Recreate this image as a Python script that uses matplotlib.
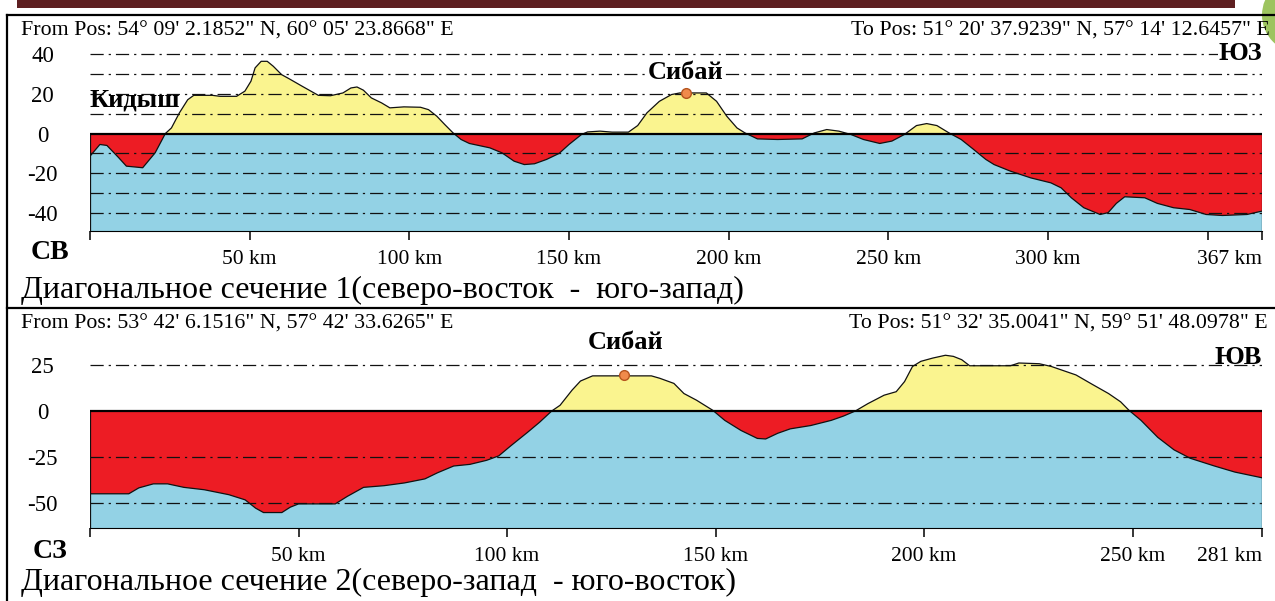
import numpy as np
import matplotlib
matplotlib.use("Agg")
import matplotlib.pyplot as plt
from matplotlib.patches import Rectangle, Circle
from matplotlib.lines import Line2D

plt.rcParams['font.family'] = ['Liberation Serif', 'DejaVu Serif']
plt.rcParams['lines.scale_dashes'] = False

# ---------------- data ----------------
p1_km = [0, 3.1, 5.3, 8.9, 11.4, 16.5, 20.4, 23.6, 25.5, 28, 30.6, 32.5, 38.3, 40.8, 45.9, 48.5,
         50.4, 51.7, 53.6, 55.5, 57.4, 60, 62.5, 66.4, 71.5, 75.3, 79.2, 81.7, 83.6, 85.6, 88.1,
         91.3, 93.9, 98.3, 103.5, 106, 108.6, 111.1, 113.7, 116.2, 118.8, 125.2, 129, 132.8, 136,
         139.2, 143, 146.9, 150, 153.9, 155.8, 159.7, 163.5, 168.6, 171.5, 174.4, 178.3, 182.1,
         184.7, 193, 196.2, 199.4, 202.6, 205.1, 209, 215.3, 223, 226.8, 230.7, 234.5, 238.3,
         242.2, 247.3, 251.1, 255, 258.8, 262, 265.2, 269, 272.8, 276.7, 280.5, 283.1, 288.2,
         294.6, 300.9, 304.1, 307.3, 311.2, 316.3, 318.8, 321.4, 324, 330.3, 334.2, 339.3, 344.4,
         349.5, 354.6, 362.3, 367]
p1_elev = [-11.4, -5.5, -6, -12, -16.4, -17.2, -9.7, 0, 2.8, 10.4, 17, 19.2, 19.2, 18.7, 18.7, 21.3,
           26.3, 33, 36.3, 36.3, 33.8, 29.6, 27.4, 23.8, 19.2, 19, 20.4, 22.9, 23.4, 21.8, 17.9,
           15.4, 12.9, 13.4, 13.2, 12, 8.7, 4.5, 0.3, -3, -5, -7.2, -9.7, -13.9, -15.6,
           -15.2, -13, -10, -5.5, -0.5, 0.8, 1.2, 0.7, 0.7, 4, 10.4, 16.2, 19.6,
           20.4, 20.4, 16.2, 8.7, 2.8, 0.3, -2.7, -3, -2.7, 0.3, 2, 1.2, -0.5,
           -3, -5, -3.8, -0.5, 4, 5, 4, 0.3, -3, -8, -13, -15.6, -18.9,
           -22.3, -24.8, -27.3, -32.3, -37.3, -40.7, -39.8, -35.1, -31.8, -32.3, -35.1, -37.3, -38.2,
           -40.7, -41.2, -40.7, -39]

p2_km = [0, 9.3, 11.7, 15.2, 18.6, 22.5, 27.4, 33.3, 37.2, 39.7, 41.6, 46, 48, 50, 58.8, 61.7,
         65.6, 70.5, 75.4, 80.3, 83.3, 87.2, 91.1, 95.1, 98, 100.9, 104.9, 107.8, 110.7, 112.7,
         115.6, 117.6, 120.5, 127.4, 134.6, 136.6, 140, 142.4, 145.4, 149.3, 152.2, 156.1, 160,
         162, 164.9, 167.9, 172.8, 177.7, 180.6, 183.5, 186.5, 190.4, 193.3, 195.3, 197.2, 199.2,
         202.1, 205.1, 207, 209, 210.9, 220.7, 222.7, 227.6, 230.5, 236.4, 240.3, 244.2, 247.1,
         249.1, 252, 256, 259.9, 263.8, 269.6, 274.5, 281]
p2_elev = [-45, -45, -41.8, -39.6, -39.6, -41.5, -42.8, -45.5, -48.3, -52.8, -55.2, -55.2, -52.3,
           -50.5, -50.5, -46.4, -41.5, -40.6, -39.1, -36.9, -33.6, -29.9, -29, -26.8, -24.4, -18.9,
           -11.6, -6.1, 0, 3.1, 11.4, 16.3, 19.1, 19.1, 19.1, 17.8, 15, 9.5, 5.9, 0.4, -5.1, -10.6,
           -14.9, -15.2, -12.1, -9.7, -7.9, -5.1, -2.8, 0, 4, 8.6, 10.5, 16, 24.2, 27, 28.8, 30.3,
           29.7, 27.9, 24.6, 24.6, 26.1, 25.7, 24.2, 19.6, 14.5, 9.5, 5, 0.4, -5.1, -14.3, -21.1,
           -25.7, -29.9, -33.2, -36.3]

p1_grid = [40, 30, 20, 10, -10, -20, -30, -40]
p1_yticks = [40, 20, 0, -20, -40]
p1_xticks = [0, 50, 100, 150, 200, 250, 300, 350, 367]
p1_xlabels = ['', '50 km', '100 km', '150 km', '200 km', '250 km', '300 km', '', '367 km']
p1_town = ('Сибай', 186.6, 20.6)
p1_village = ('Кидыш', 0.0, 16.7)

p2_grid = [25, -25, -50]
p2_yticks = [25, 0, -25, -50]
p2_xticks = [0, 50, 100, 150, 200, 250, 281]
p2_xlabels = ['', '50 km', '100 km', '150 km', '200 km', '250 km', '281 km']
p2_town = ('Сибай', 128.0, 19.6)

p1_from = 'From Pos: 54° 09\' 2.1852" N, 60° 05\' 23.8668" E'
p1_to = 'To Pos: 51° 20\' 37.9239" N, 57° 14\' 12.6457" E'
p2_from = 'From Pos: 53° 42\' 6.1516" N, 57° 42\' 33.6265" E'
p2_to = 'To Pos: 51° 32\' 35.0041" N, 59° 51\' 48.0978" E'
cap1 = 'Диагональное сечение 1(северо-восток  -  юго-запад)'
cap2 = 'Диагональное сечение 2(северо-запад  - юго-восток)'

# ---------------- style ----------------
W, H = 1275, 601
BLUE = '#93D2E5'
RED = '#ED1C24'
YELLOW = '#FAF48F'
DASH = (0, (9.5, 3.6, 1.6, 3.6))
TICK_FS = 15.5
BOLD_FS = 19

fig = plt.figure(figsize=(W / 100, H / 100), dpi=100)


def fx(px):
    return px / W


def fy(py):
    return 1 - py / H


def panel(top_px, bot_px, ylim, km, elev, grid, yticks, xticks, xlabels):
    ax = fig.add_axes([fx(90), fy(bot_px), fx(1262) - fx(90), fy(top_px) - fy(bot_px)])
    x = np.array(km, float)
    y = np.array(elev, float)
    ax.set_xlim(x[0], x[-1])
    ax.set_ylim(*ylim)
    b = ylim[0]
    ax.fill_between(x, b, 0, color=BLUE, lw=0, zorder=1)
    ax.fill_between(x, y, 0, where=y <= 0, interpolate=True, color=RED, lw=0, zorder=2)
    ax.fill_between(x, 0, y, where=y >= 0, interpolate=True, color=YELLOW, lw=0, zorder=2)
    ax.plot(x, y, color='#111111', lw=0.9, zorder=4)
    ax.axhline(0, color='black', lw=1.6, zorder=5)
    for g in grid:
        ax.axhline(g, color='#111111', lw=0.9, linestyle=DASH, zorder=6)
    ax.vlines([x[0], x[-1]], b, [max(0, y[0]), max(0, y[-1])], color='#111111', lw=0.9, zorder=4)
    for s in ['top', 'left', 'right']:
        ax.spines[s].set_visible(False)
    ax.spines['bottom'].set_linewidth(0.8)
    ax.set_xticks(xticks)
    ax.set_xticklabels(xlabels, fontsize=TICK_FS)
    ax.tick_params(axis='x', direction='out', length=6.5, width=1.1, pad=7)
    ax.get_xticklabels()[-1].set_ha('right')
    ax.set_yticks(yticks)
    ax.set_yticklabels([str(t) for t in yticks], fontsize=16.5, ha='center')
    ax.tick_params(axis='y', length=0, pad=34)
    return ax


ax1 = panel(45, 231, (-49, 44.5), p1_km, p1_elev, p1_grid, p1_yticks, p1_xticks, p1_xlabels)
ax2 = panel(340, 528, (-63.6, 38.6), p2_km, p2_elev, p2_grid, p2_yticks, p2_xticks, p2_xlabels)

mk = dict(marker='o', ms=7, mfc='#F08A4B', mec='#B5541E', mew=1, zorder=8, ls='none')
ax1.plot([p1_town[1]], [p1_town[2]], **mk)
ax1.text(p1_town[1], 30.8, p1_town[0], ha='center', va='center', fontsize=BOLD_FS, fontweight='bold',
         zorder=9, bbox=dict(fc='white', ec='none', pad=0.5))
ax1.text(p1_village[1], p1_village[2], p1_village[0], ha='left', va='center', fontsize=BOLD_FS,
         fontweight='bold', zorder=9)
ax1.text(367, 40, 'ЮЗ', ha='right', va='center', fontsize=BOLD_FS, fontweight='bold', zorder=9,
         bbox=dict(fc='white', ec='none', pad=0.5))

ax2.plot([p2_town[1]], [p2_town[2]], **mk)
ax2.text(128.5, 37, p2_town[0], ha='center', va='center', fontsize=BOLD_FS, fontweight='bold', zorder=9)
ax2.text(281, 29, 'ЮВ', ha='right', va='center', fontsize=BOLD_FS, fontweight='bold', zorder=9)

# texts outside axes
fig.text(fx(21), fy(31), p1_from, ha='left', va='center', fontsize=15.75)
fig.text(fx(1270), fy(31), p1_to, ha='right', va='center', fontsize=15.75)
fig.text(fx(21), fy(324), p2_from, ha='left', va='center', fontsize=15.75)
fig.text(fx(1268), fy(324), p2_to, ha='right', va='center', fontsize=15.75)
fig.text(fx(50), fy(252), 'СВ', ha='center', va='center', fontsize=20, fontweight='bold')
fig.text(fx(50), fy(552), 'СЗ', ha='center', va='center', fontsize=20, fontweight='bold')
fig.text(fx(21), fy(290), cap1, ha='left', va='center', fontsize=23)
fig.text(fx(21), fy(582), cap2, ha='left', va='center', fontsize=23)

# frame decorations
fig.patches.append(Rectangle((fx(17), fy(7.5)), fx(1235) - fx(17), fy(0) - fy(7.5),
                             transform=fig.transFigure, color='#5E1F21', lw=0))
fig.patches.append(Circle((1300, H - 15), 38, transform=None, color='#9DC45F', lw=0))
fig.lines.append(Line2D([fx(7), 1], [fy(15), fy(15)], transform=fig.transFigure, color='black', lw=1.6))
fig.lines.append(Line2D([fx(7), 1], [fy(308), fy(308)], transform=fig.transFigure, color='black', lw=1.6))
fig.lines.append(Line2D([fx(7), fx(7)], [fy(15), 0], transform=fig.transFigure, color='black', lw=1.6))

fig.savefig('out.png', dpi=100)
